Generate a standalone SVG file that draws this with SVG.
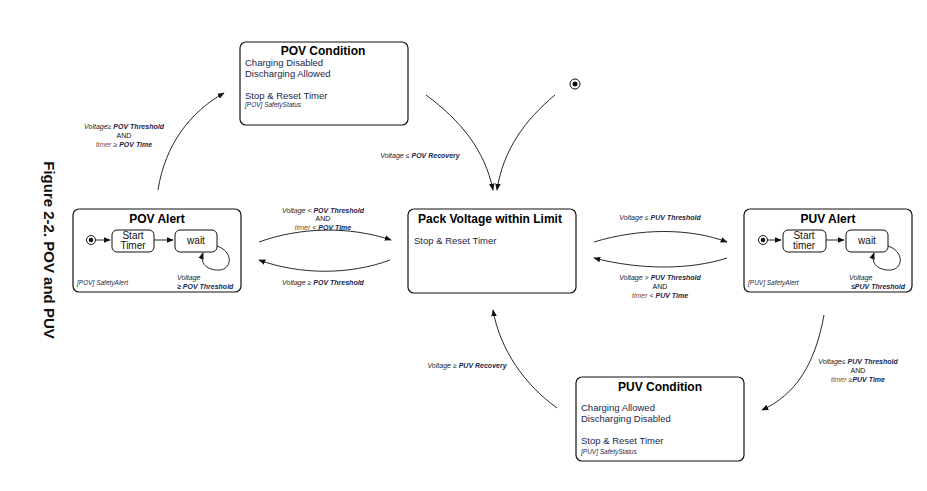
<svg xmlns="http://www.w3.org/2000/svg" width="927" height="491" viewBox="0 0 927 491">
<style>
.box{fill:#fff;stroke:#111;stroke-width:1.2}
.sub{fill:#fff;stroke:#111;stroke-width:1}
.title{font-family:"Liberation Sans",Arial,sans-serif;font-weight:bold;font-size:12px;fill:#000;text-anchor:middle}
.body{font-family:"Liberation Sans",Arial,sans-serif;font-size:9.5px;fill:#1b1f4b}
.subt{font-family:"Liberation Sans",Arial,sans-serif;font-size:10px;fill:#111;text-anchor:middle}
.tag{font-family:"Liberation Sans",Arial,sans-serif;font-style:italic;font-size:6.5px;fill:#1b1f4b}
.lbl{font-family:"Liberation Sans",Arial,sans-serif;font-style:italic;font-size:7px;fill:#222;text-anchor:middle}
.lbl .k{font-weight:bold;fill:#1b1f4b}
.lbl .t{fill:#8a4a1a}
.and{font-style:normal;fill:#111}
.conn path{fill:none;stroke:#111;stroke-width:0.9}
.cap{font-family:"Liberation Sans",Arial,sans-serif;font-weight:bold;font-size:15px;fill:#111;text-anchor:middle}
</style>
<defs>
<marker id="ah" viewBox="0 0 10 10" refX="9" refY="5" markerWidth="7" markerHeight="7" orient="auto" markerUnits="userSpaceOnUse">
<path d="M0,1 L10,5 L0,9 z" fill="#111"/>
</marker>
</defs>

<text class="cap" transform="translate(44,250) rotate(90)">Figure 2-2. POV and PUV</text>

<g id="pov-condition">
<rect class="box" x="240" y="42" width="168" height="83" rx="6"/>
<text class="title" x="323" y="55">POV Condition</text>
<text class="body" x="245" y="66">Charging Disabled</text>
<text class="body" x="245" y="77">Discharging Allowed</text>
<text class="body" x="245" y="99">Stop &amp; Reset Timer</text>
<text class="tag" x="245" y="107">[POV]  SafetyStatus</text>
</g>

<g id="initial-top">
<circle cx="575" cy="84" r="5" fill="#fff" stroke="#111" stroke-width="1"/>
<circle cx="575" cy="84" r="2.5" fill="#111"/>
</g>

<g id="pov-alert">
<rect class="box" x="73" y="209" width="168" height="83" rx="6"/>
<text class="title" x="157" y="223">POV Alert</text>
<circle cx="91" cy="240" r="4.5" fill="#fff" stroke="#111" stroke-width="1"/>
<circle cx="91" cy="240" r="2.3" fill="#111"/>
<rect class="sub" x="112" y="230" width="42" height="22" rx="5"/>
<text class="subt" x="133" y="239">Start</text>
<text class="subt" x="133" y="249">Timer</text>
<rect class="sub" x="175" y="230" width="42" height="22" rx="5"/>
<text class="subt" x="196" y="244">wait</text>
<text class="tag" x="77" y="285">[POV]  SafetyAlert</text>
<text class="lbl" x="177" y="280" text-anchor="start" style="text-anchor:start">Voltage</text>
<text class="lbl" x="177" y="289" style="text-anchor:start"><tspan class="k">≥ POV Threshold</tspan></text>
</g>

<g id="pack-voltage">
<rect class="box" x="408" y="209" width="168" height="84" rx="6"/>
<text class="title" x="490" y="223">Pack Voltage within Limit</text>
<text class="body" x="414" y="244">Stop &amp; Reset Timer</text>
</g>

<g id="puv-alert">
<rect class="box" x="744" y="209" width="168" height="83" rx="6"/>
<text class="title" x="828" y="223">PUV Alert</text>
<circle cx="763" cy="240" r="4.5" fill="#fff" stroke="#111" stroke-width="1"/>
<circle cx="763" cy="240" r="2.3" fill="#111"/>
<rect class="sub" x="783" y="230" width="43" height="22" rx="5"/>
<text class="subt" x="804" y="239">Start</text>
<text class="subt" x="804" y="249">timer</text>
<rect class="sub" x="846" y="230" width="42" height="22" rx="5"/>
<text class="subt" x="867" y="244">wait</text>
<text class="tag" x="748" y="285">[PUV]  SafetyAlert</text>
<text class="lbl" x="849" y="280" style="text-anchor:start">Voltage</text>
<text class="lbl" x="851" y="289" style="text-anchor:start"><tspan class="k">≤PUV Threshold</tspan></text>
</g>

<g id="puv-condition">
<rect class="box" x="576" y="377" width="168" height="84" rx="6"/>
<text class="title" x="660" y="391">PUV Condition</text>
<text class="body" x="581" y="411">Charging Allowed</text>
<text class="body" x="581" y="422">Discharging Disabled</text>
<text class="body" x="581" y="444">Stop &amp; Reset Timer</text>
<text class="tag" x="581" y="454">[PUV]  SafetyStatus</text>
</g>

<g class="conn" id="connectors">
<path d="M96,240 L110,240" marker-end="url(#ah)"/>
<path d="M154,240 L173,240" marker-end="url(#ah)"/>
<path d="M217,246 C235,252 232,272 216,270 C205,269 200,262 203,253" marker-end="url(#ah)"/>
<path d="M768,240 L781,240" marker-end="url(#ah)"/>
<path d="M826,240 L844,240" marker-end="url(#ah)"/>
<path d="M888,246 C906,252 903,272 887,270 C876,269 871,262 874,253" marker-end="url(#ah)"/>

<path d="M158,190 C165,145 190,112 224,93" marker-end="url(#ah)"/>
<path d="M426,95 C460,120 485,150 493,190" marker-end="url(#ah)"/>
<path d="M555,95 C525,120 503,150 497,190" marker-end="url(#ah)"/>
<path d="M259,242 C300,227 350,226 391,240" marker-end="url(#ah)"/>
<path d="M390,260 C350,275 300,275 259,260" marker-end="url(#ah)"/>
<path d="M594,242 C640,228 690,228 727,242" marker-end="url(#ah)"/>
<path d="M727,258 C690,270 640,270 594,258" marker-end="url(#ah)"/>
<path d="M824,315 C815,365 795,395 762,410" marker-end="url(#ah)"/>
<path d="M557,408 C525,385 500,350 493,310" marker-end="url(#ah)"/>
</g>

<g id="labels">
<text class="lbl" x="124" y="129">Voltage≥ <tspan class="k">POV Threshold</tspan></text>
<text class="lbl and" x="124" y="138">AND</text>
<text class="lbl" x="124" y="147"><tspan class="t">timer</tspan> ≥ <tspan class="k">POV Time</tspan></text>

<text class="lbl" x="323" y="213">Voltage &lt; <tspan class="k">POV Threshold</tspan></text>
<text class="lbl and" x="323" y="221">AND</text>
<text class="lbl" x="323" y="230"><tspan class="t">timer</tspan>  &lt; <tspan class="k">POV Time</tspan></text>

<text class="lbl" x="323" y="285">Voltage ≥ <tspan class="k">POV Threshold</tspan></text>

<text class="lbl" x="420" y="158">Voltage ≤ <tspan class="k">POV Recovery</tspan></text>

<text class="lbl" x="660" y="220">Voltage ≤ <tspan class="k">PUV Threshold</tspan></text>

<text class="lbl" x="660" y="280">Voltage &gt; <tspan class="k">PUV Threshold</tspan></text>
<text class="lbl and" x="660" y="289">AND</text>
<text class="lbl" x="660" y="298"><tspan class="t">timer</tspan>  &lt; <tspan class="k">PUV Time</tspan></text>

<text class="lbl" x="858" y="364">Voltage≤ <tspan class="k">PUV Threshold</tspan></text>
<text class="lbl and" x="858" y="373">AND</text>
<text class="lbl" x="858" y="382"><tspan class="t">timer</tspan> ≥<tspan class="k">PUV Time</tspan></text>

<text class="lbl" x="467" y="368">Voltage ≥ <tspan class="k">PUV Recovery</tspan></text>
</g>
</svg>
